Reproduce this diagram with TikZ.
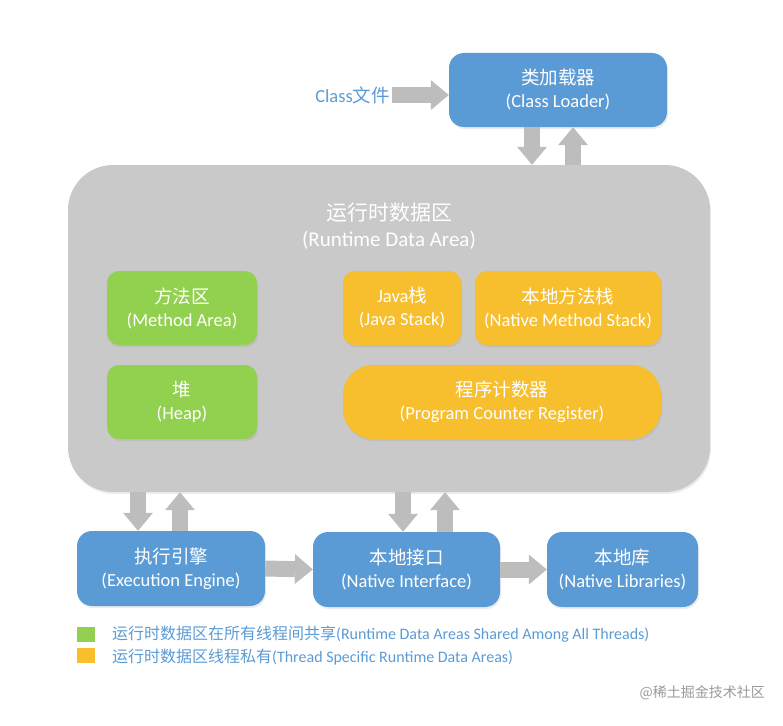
\documentclass[tikz,border=0pt]{standalone}
\usepackage{fontspec}
\setmainfont{Carlito}
\newfontfamily\cjk{Noto Sans CJK SC}
\usetikzlibrary{arrows.meta,shadows}
\definecolor{jvmblue}{RGB}{91,155,213}
\definecolor{jvmgreen}{RGB}{146,208,80}
\definecolor{jvmgold}{RGB}{247,190,45}
\definecolor{areagray}{RGB}{201,201,201}
\definecolor{arrowgray}{RGB}{189,189,189}
\newcommand{\zh}[1]{{\cjk #1}}

\begin{document}
\begin{tikzpicture}[x=1pt,y=-1pt]
\tikzstyle{every node}=[font=\fontsize{18.5}{23}\selectfont]
\tikzstyle{box}=[rectangle, inner sep=0pt, align=center, text=white,
  rounded corners=12pt, drop shadow={opacity=0.15, shadow xshift=1pt, shadow yshift=-2pt}]
\tikzstyle{bluebox}=[box, fill=jvmblue, rounded corners=15pt]
\tikzstyle{greenbox}=[box, fill=jvmgreen]
\tikzstyle{goldbox}=[box, fill=jvmgold]
\tikzstyle{fat}=[line width=16pt, draw=arrowgray,
  -{Triangle[length=18pt,width=30pt,line width=0pt]}]
\tikzstyle{legend}=[anchor=west, inner sep=0pt, text=jvmblue, font=\fontsize{16}{18}\selectfont]

\useasboundingbox (0,0) rectangle (783,725);

% class loader
\node[bluebox, minimum width=218pt, minimum height=74pt] at (558,90) (loader) {
\zh{类加载器}\\(Class Loader)
};
\node[anchor=east, inner sep=2pt, text=jvmblue] at (392,95) (cls) {
Class\zh{文件}
};

% runtime data area
\node[box, fill=areagray, rounded corners=45pt,
minimum width=642pt, minimum height=327pt] at (389,328.5) (rda) {};
\node[align=center, text=white, font=\fontsize{21}{26}\selectfont] at (389,226) (rdatitle) {
\zh{运行时数据区}\\(Runtime Data Area)
};

\node[greenbox, minimum width=150pt, minimum height=74pt] at (182,308) (method) {
\zh{方法区}\\(Method Area)
};
\node[greenbox, minimum width=150pt, minimum height=74pt] at (182,402) (heap) {
\zh{堆}\\(Heap)
};
\node[goldbox, minimum width=118pt, minimum height=74pt] at (402,308) (jstack) {
Java\zh{栈}\\(Java Stack)
};
\node[goldbox, minimum width=186pt, minimum height=74pt] at (568,308) (nmstack) {
\zh{本地方法栈}\\(Native Method Stack)
};
\node[goldbox, rounded corners=30pt, minimum width=318pt, minimum height=74pt] at (502,402) (pc) {
\zh{程序计数器}\\(Program Counter Register)
};

% bottom row
\node[bluebox, minimum width=188pt, minimum height=75pt] at (171,568.5) (ee) {
\zh{执行引擎}\\(Execution Engine)
};
\node[bluebox, minimum width=187pt, minimum height=75pt] at (406.5,569.5) (ni) {
\zh{本地接口}\\(Native Interface)
};
\node[bluebox, minimum width=151pt, minimum height=75pt] at (622.5,569.5) (nl) {
\zh{本地库}\\(Native Libraries)
};

% legend
\node[rectangle, fill=jvmgreen, minimum width=18pt, minimum height=15pt, inner sep=0pt] at (86,634.5) (keyshared) {};
\node[rectangle, fill=jvmgold, minimum width=18pt, minimum height=15pt, inner sep=0pt] at (86,655.5) (keyprivate) {};
\node[legend] at (112,634) (txtshared) {\zh{运行时数据区在所有线程间共享}(Runtime Data Areas Shared Among All Threads)};
\node[legend] at (112,657) (txtprivate) {\zh{运行时数据区线程私有}(Thread Specific Runtime Data Areas)};

\node[anchor=east, inner sep=0pt, text=black!40, font=\fontsize{14}{16}\selectfont] at (765,693) (mark) {
\zh{@稀土掘金技术社区}
};

\draw[fat] (cls.east) -- (cls.east -| loader.west);
\draw[fat] (loader.south -| 532,0) -- (rda.north -| 532,0);
\draw[fat] (rda.north -| 573,0) -- (loader.south -| 573,0);

\draw[fat] (rda.south -| 138,0) -- (ee.north -| 138,0);
\draw[fat] (ee.north -| 180,0) -- (rda.south -| 180,0);
\draw[fat] (rda.south -| 403,0) -- (ni.north -| 403,0);
\draw[fat] (ni.north -| 445,0) -- (rda.south -| 445,0);

\draw[fat] (ee.east) -- (ni.west);
\draw[fat] (ni.east) -- (nl.west);

\end{tikzpicture}
\end{document}
